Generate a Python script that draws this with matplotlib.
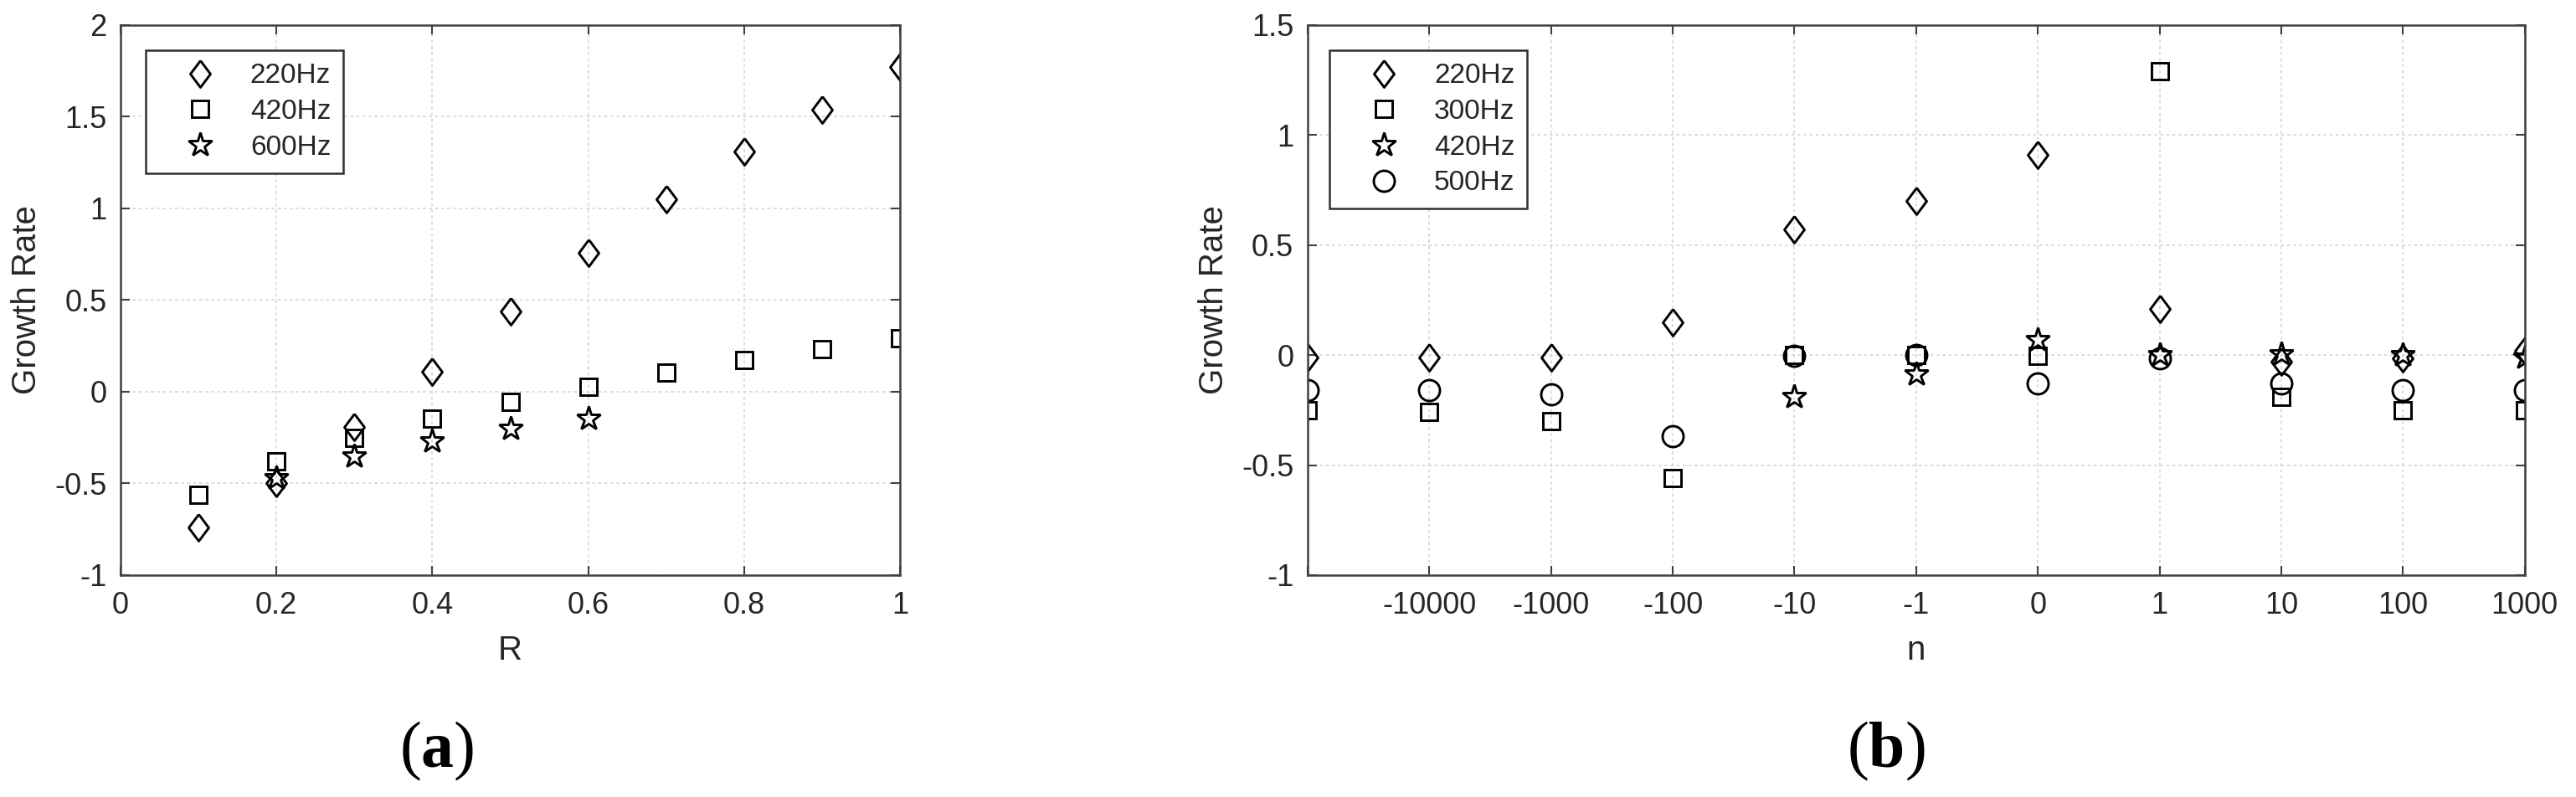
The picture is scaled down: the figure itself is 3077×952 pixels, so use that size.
import numpy as np
import matplotlib
matplotlib.use("Agg")
import matplotlib.pyplot as plt
from matplotlib.ticker import FuncFormatter

plt.rcParams['font.family'] = ['Liberation Sans', 'DejaVu Sans']
plt.rcParams['axes.unicode_minus'] = False
plt.rcParams['mathtext.fontset'] = 'custom'
plt.rcParams['mathtext.rm'] = 'Liberation Serif'
plt.rcParams['mathtext.bf'] = 'Liberation Serif:bold'
plt.rcParams['mathtext.default'] = 'rm'

# (a) growth rate vs R
R = [0.1, 0.2, 0.3, 0.4, 0.5, 0.6, 0.7, 0.8, 0.9, 1.0]
a_220 = [-0.74, -0.50, -0.19, 0.11, 0.44, 0.76, 1.05, 1.31, 1.54, 1.77]
a_420 = [-0.56, -0.38, -0.25, -0.144, -0.055, 0.028, 0.105, 0.172, 0.233, 0.29]
a_600 = [np.nan, -0.47, -0.35, -0.27, -0.20, -0.147, np.nan, np.nan, np.nan, np.nan]

# (b) growth rate vs n
n_labels = ['', '-10000', '-1000', '-100', '-10', '-1', '0', '1', '10', '100', '1000']
b_220 = [-0.01, -0.01, -0.01, 0.15, 0.57, 0.70, 0.91, 0.21, -0.03, -0.015, 0.02]
b_300 = [-0.25, -0.26, -0.30, -0.56, 0.0, 0.0, -0.005, 1.29, -0.19, -0.25, -0.25]
b_420 = [np.nan, np.nan, np.nan, np.nan, -0.19, -0.085, 0.07, 0.0, 0.005, 0.0, -0.01]
b_500 = [-0.16, -0.16, -0.18, -0.37, -0.005, 0.0, -0.13, -0.016, -0.13, -0.16, -0.16]

diamond = [(0, 1), (0.75, 0), (0, -1), (-0.75, 0), (0, 1)]
spine_col = '#404040'
text_col = '#262626'
fmt = FuncFormatter(lambda v, p: '%g' % round(v, 3))

fig = plt.figure(figsize=(30.77, 9.52), dpi=100)
ax1 = fig.add_axes([0.0468, 0.2784, 0.3026, 0.6901])
ax2 = fig.add_axes([0.5076, 0.2784, 0.4725, 0.6901])

mk = dict(linestyle='none', color='black', markerfacecolor='none', markeredgewidth=2.1)


def style(ax):
    ax.grid(True, color='#d9d9d9', linestyle=(0, (2, 2)), linewidth=1.3)
    ax.set_axisbelow(True)
    for s in ax.spines.values():
        s.set_color(spine_col)
        s.set_linewidth(1.8)
    ax.tick_params(direction='in', length=8, width=1.5, color=spine_col,
                   top=True, right=True, labelsize=26, labelcolor=text_col)
    ax.tick_params(axis='y', pad=12)
    ax.tick_params(axis='x', pad=14)
    ax.yaxis.set_major_formatter(fmt)


ax1.plot(R, a_220, marker=diamond, markersize=23, label='220Hz', **mk)
ax1.plot(R, a_420, marker='s', markersize=15, label='420Hz', **mk)
ax1.plot(R, a_600, marker='*', markersize=21, label='600Hz', **mk)
ax1.set_xlim(0, 1)
ax1.set_ylim(-1, 2)
ax1.set_xticks([0, 0.2, 0.4, 0.6, 0.8, 1])
ax1.set_yticks([-1, -0.5, 0, 0.5, 1, 1.5, 2])
ax1.xaxis.set_major_formatter(fmt)
style(ax1)
ax1.set_xlabel('R', fontsize=29, color=text_col, labelpad=12)
ax1.set_ylabel('Growth Rate', fontsize=29, color=text_col, labelpad=10)

xb = np.arange(len(n_labels))
ax2.plot(xb, b_220, marker=diamond, markersize=23, label='220Hz', **mk)
ax2.plot(xb, b_300, marker='s', markersize=15, label='300Hz', **mk)
ax2.plot(xb, b_420, marker='*', markersize=21, label='420Hz', **mk)
ax2.plot(xb, b_500, marker='o', markersize=18, label='500Hz', **mk)
ax2.set_xlim(0, len(n_labels) - 1)
ax2.set_ylim(-1, 1.5)
ax2.set_xticks(xb)
ax2.set_xticklabels(n_labels)
ax2.set_yticks([-1, -0.5, 0, 0.5, 1, 1.5])
style(ax2)
ax2.set_xlabel('n', fontsize=29, color=text_col, labelpad=12)
ax2.set_ylabel('Growth Rate', fontsize=29, color=text_col, labelpad=10)

for ax, x0 in [(ax1, 0.032), (ax2, 0.018)]:
    leg = ax.legend(loc='upper left', bbox_to_anchor=(x0, 0.954), borderaxespad=0,
                    fontsize=24, handlelength=3.0, handletextpad=0.3,
                    borderpad=0.45, labelspacing=0.35, fancybox=False,
                    framealpha=1, edgecolor='#303030')
    leg.get_frame().set_linewidth(1.8)
    for t in leg.get_texts():
        t.set_color(text_col)

fig.text(522 / 3077, 1 - 897 / 952, r'$(\mathbf{a})$', fontsize=56, ha='center', va='center')
fig.text(2253 / 3077, 1 - 897 / 952, r'$(\mathbf{b})$', fontsize=56, ha='center', va='center')

fig.savefig('out.png', dpi=100, facecolor='white')
